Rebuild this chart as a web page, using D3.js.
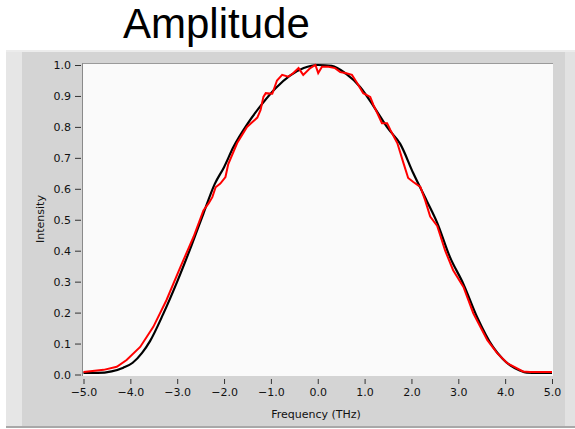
<!DOCTYPE html>
<html>
<head>
<meta charset="utf-8">
<script src="https://cdn.jsdelivr.net/npm/d3@7"></script>
<style>
  body { margin: 0; background: #fff; }
  svg text { font-family: "DejaVu Sans", sans-serif; }
</style>
</head>
<body>
<svg id="drawing_region"></svg>
<script>
// measured spectrum (black) and retrieved spectrum (red)
const black_x = [-5.0, -4.7, -4.4, -4.15, -3.95, -3.75, -3.58, -3.3, -3.0, -2.7, -2.44, -2.2, -2.0, -1.8, -1.5, -1.2, -0.9, -0.6, -0.3, 0.0, 0.3, 0.6, 0.9, 1.2, 1.5, 1.76, 2.04, 2.33, 2.55, 2.82, 3.11, 3.4, 3.74, 3.95, 4.1, 4.3, 4.46, 4.7, 5.0];
const black_y = [0.005, 0.005, 0.01, 0.022, 0.038, 0.07, 0.108, 0.195, 0.30, 0.415, 0.52, 0.615, 0.67, 0.735, 0.81, 0.872, 0.925, 0.965, 0.99, 1.0, 0.997, 0.972, 0.93, 0.865, 0.795, 0.745, 0.65, 0.56, 0.49, 0.38, 0.292, 0.186, 0.089, 0.05, 0.03, 0.014, 0.006, 0.005, 0.005];

const red_x = [-5.0, -4.57, -4.29, -4.08, -3.79, -3.51, -3.23, -2.93, -2.65, -2.44, -2.33, -2.25, -2.18, -2.08, -1.97, -1.91, -1.72, -1.51, -1.40, -1.29, -1.22, -1.16, -1.11, -0.97, -0.87, -0.76, -0.63, -0.52, -0.41, -0.31, -0.16, -0.05, 0.01, 0.09, 0.23, 0.37, 0.48, 0.59, 0.73, 0.84, 0.97, 1.12, 1.19, 1.27, 1.37, 1.48, 1.55, 1.70, 1.83, 1.93, 2.04, 2.19, 2.29, 2.40, 2.55, 2.72, 2.89, 3.11, 3.32, 3.62, 3.83, 4.04, 4.38, 4.53, 5.0];
const red_y = [0.008, 0.015, 0.025, 0.047, 0.089, 0.154, 0.24, 0.348, 0.445, 0.53, 0.553, 0.573, 0.605, 0.617, 0.638, 0.68, 0.748, 0.80, 0.815, 0.83, 0.855, 0.897, 0.909, 0.907, 0.95, 0.968, 0.962, 0.974, 0.99, 0.968, 0.99, 1.0, 0.974, 0.994, 0.994, 0.99, 0.977, 0.974, 0.968, 0.942, 0.909, 0.897, 0.87, 0.845, 0.812, 0.812, 0.79, 0.747, 0.683, 0.635, 0.622, 0.606, 0.564, 0.51, 0.48, 0.40, 0.337, 0.283, 0.198, 0.111, 0.069, 0.037, 0.01, 0.008, 0.008];

const x_ticks = [-5, -4, -3, -2, -1, 0, 1, 2, 3, 4, 5];
const y_ticks = [0, 0.1, 0.2, 0.3, 0.4, 0.5, 0.6, 0.7, 0.8, 0.9, 1.0];

const width = 575, height = 429;
const svg = d3.select('#drawing_region')
    .attr('width', width)
    .attr('height', height);

// title
svg.append('text')
    .attr('x', 123).attr('y', 38)
    .style('font-family', '"Liberation Sans", Arial, sans-serif')
    .style('font-size', '42px')
    .attr('fill', '#000')
    .text('Amplitude');

// gray LabVIEW style panel
svg.append('rect').attr('x', 6).attr('y', 50).attr('width', 569).attr('height', 378).attr('fill', '#d4d4d4');
svg.append('rect').attr('x', 6).attr('y', 50).attr('width', 16).attr('height', 378).attr('fill', '#e6e6e6');
svg.append('rect').attr('x', 565).attr('y', 50).attr('width', 10).attr('height', 378).attr('fill', '#e2e2e2');
svg.append('rect').attr('x', 6).attr('y', 50).attr('width', 569).attr('height', 2).attr('fill', '#ececec');
svg.append('rect').attr('x', 6).attr('y', 426).attr('width', 569).attr('height', 2).attr('fill', '#a8a8a8');

// plot area
const plot = {left: 82, top: 63, right: 553, bottom: 376};
svg.append('rect')
    .attr('x', plot.left).attr('y', plot.top)
    .attr('width', plot.right - plot.left).attr('height', plot.bottom - plot.top)
    .attr('fill', '#fafafa');
svg.append('line')
    .attr('x1', plot.left).attr('x2', plot.right)
    .attr('y1', plot.top + 0.5).attr('y2', plot.top + 0.5)
    .attr('stroke', '#9a9a9a');
svg.append('line')
    .attr('x1', plot.left + 0.5).attr('x2', plot.left + 0.5)
    .attr('y1', plot.top).attr('y2', plot.bottom)
    .attr('stroke', '#8a8a8a');

const xscale = d3.scaleLinear().domain([-5, 5]).range([83.5, 552]);
const yscale = d3.scaleLinear().domain([0, 1]).range([374.5, 65]);

const xaxis = d3.axisBottom(xscale)
    .tickValues(x_ticks)
    .tickSize(5)
    .tickPadding(4)
    .tickFormat(d3.format('.1f'));
const xg = svg.append('g')
    .attr('transform', `translate(0, 379)`)
    .call(xaxis);
xg.select('.domain').remove();

const yaxis = d3.axisLeft(yscale)
    .tickValues(y_ticks)
    .tickSize(6)
    .tickPadding(4)
    .tickFormat(d3.format('.1f'));
const yg = svg.append('g')
    .attr('transform', `translate(81, 0)`)
    .call(yaxis);
yg.select('.domain').remove();

svg.selectAll('.tick line').attr('stroke', '#333');
svg.selectAll('.tick text')
    .attr('fill', '#111')
    .style('font-family', '"DejaVu Sans", sans-serif')
    .style('font-size', '11px');

// axis titles
svg.append('text')
    .attr('x', 316).attr('y', 418)
    .attr('text-anchor', 'middle')
    .style('font-size', '11px')
    .attr('fill', '#111')
    .text('Frequency (THz)');
svg.append('text')
    .attr('transform', 'translate(44, 219) rotate(-90)')
    .attr('text-anchor', 'middle')
    .style('font-size', '11px')
    .attr('fill', '#111')
    .text('Intensity');

// curves
const smooth_line = d3.line()
    .curve(d3.curveMonotoneX)
    .x(d => xscale(d[0]))
    .y(d => yscale(d[1]));
const line = d3.line()
    .x(d => xscale(d[0]))
    .y(d => yscale(d[1]));

svg.append('path')
    .datum(d3.zip(black_x, black_y))
    .attr('d', smooth_line)
    .attr('fill', 'none')
    .attr('stroke', '#000')
    .attr('stroke-width', 2.2);

svg.append('path')
    .datum(d3.zip(red_x, red_y))
    .attr('d', line)
    .attr('fill', 'none')
    .attr('stroke', '#ff0000')
    .attr('stroke-width', 2);
</script>
</body>
</html>
